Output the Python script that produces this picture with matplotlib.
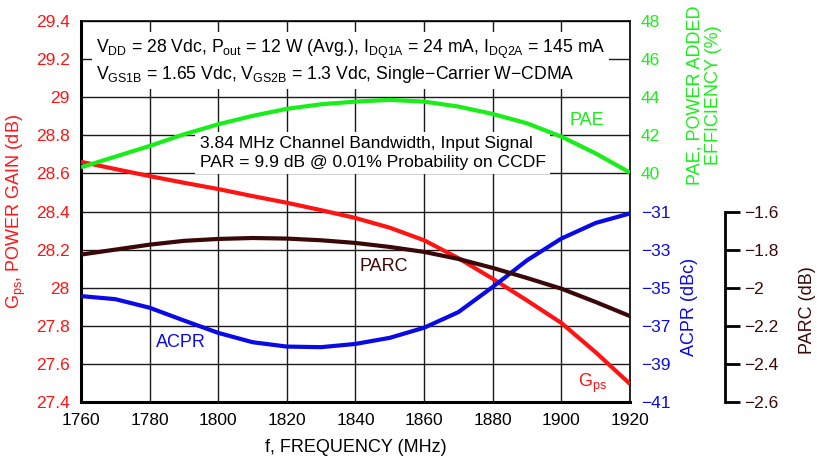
import matplotlib
matplotlib.use("Agg")
import matplotlib.pyplot as plt

plt.rcParams['font.family'] = ['Liberation Sans', 'DejaVu Sans']
plt.rcParams['mathtext.fontset'] = 'custom'
plt.rcParams['mathtext.rm'] = 'Liberation Sans'
plt.rcParams['mathtext.it'] = 'Liberation Sans'

# data, one point per 10 MHz
freq = [1760, 1770, 1780, 1790, 1800, 1810, 1820, 1830, 1840,
        1850, 1860, 1870, 1880, 1890, 1900, 1910, 1920]
gps = [28.661, 28.623, 28.586, 28.551, 28.518, 28.481, 28.446, 28.407, 28.366,
       28.315, 28.249, 28.155, 28.047, 27.933, 27.815, 27.661, 27.495]
pae = [40.32, 40.88, 41.44, 42.05, 42.58, 43.02, 43.39, 43.63, 43.77,
       43.86, 43.77, 43.51, 43.12, 42.63, 41.93, 41.05, 40.04]
acpr = [-35.44, -35.6, -36.05, -36.72, -37.37, -37.86, -38.09, -38.12, -37.95,
        -37.63, -37.1, -36.28, -34.96, -33.56, -32.42, -31.6, -31.1]
parc = [-1.826, -1.8, -1.774, -1.754, -1.744, -1.739, -1.742, -1.751, -1.765,
        -1.786, -1.812, -1.849, -1.896, -1.949, -2.005, -2.075, -2.149]

x_ticks = [1760, 1780, 1800, 1820, 1840, 1860, 1880, 1900, 1920]
gps_ticks = [27.4, 27.6, 27.8, 28, 28.2, 28.4, 28.6, 28.8, 29, 29.2, 29.4]
gps_labels = ['27.4', '27.6', '27.8', '28', '28.2', '28.4', '28.6', '28.8', '29', '29.2', '29.4']
pae_ticks = [40, 42, 44, 46, 48]
acpr_ticks = [-41, -39, -37, -35, -33, -31]
parc_ticks = [-2.6, -2.4, -2.2, -2, -1.8, -1.6]
parc_labels = ['\u22122.6', '\u22122.4', '\u22122.2', '\u22122', '\u22121.8', '\u22121.6']

RED = '#ff1414'
GREEN = '#1aee1a'
BLUE = '#0a0ae6'
BROWN = '#3a0808'

fig = plt.figure(figsize=(8.17, 4.63), dpi=100)
ax = fig.add_axes([0.0991, 0.1317, 0.672, 0.8229])

ax.set_xlim(1760, 1920)
ax.set_ylim(27.4, 29.4)
ax.set_xticks(x_ticks)
ax.set_yticks(gps_ticks)
ax.set_yticklabels(gps_labels)
ax.grid(True, color='#1a1a1a', linewidth=1.0, zorder=0)
ax.set_axisbelow(True)
ax.tick_params(axis='both', length=0, labelsize=12.5, pad=8)
ax.tick_params(axis='y', colors=RED)
ax.tick_params(axis='x', colors='black')
for s in ['left', 'bottom']:
    ax.spines[s].set_linewidth(2.2)
for s in ['top', 'right']:
    ax.spines[s].set_linewidth(1.2)
ax.set_xlabel('f, FREQUENCY (MHz)', fontsize=13, labelpad=8)
ax.set_ylabel('G$_{\\mathrm{ps}}$, POWER GAIN (dB)', fontsize=13, color=RED, labelpad=6)

ax_pae = ax.twinx()
ax_pae.set_ylim(28, 48)
ax_pae.set_yticks(pae_ticks)
ax_pae.tick_params(axis='y', length=0, labelsize=12.5, colors=GREEN, pad=8)
ax_pae.spines['right'].set_visible(False)

ax_acpr = ax.twinx()
ax_acpr.set_ylim(-41, -21)
ax_acpr.set_yticks(acpr_ticks)
ax_acpr.tick_params(axis='y', length=0, labelsize=12.5, colors=BLUE, pad=8)
ax_acpr.spines['right'].set_visible(False)

ax_parc = ax.twinx()
ax_parc.set_ylim(-2.6, -0.6)
ax_parc.spines['right'].set_position(('axes', 1.173))
ax_parc.spines['right'].set_bounds(-2.6, -1.6)
ax_parc.spines['right'].set_linewidth(2.0)
ax_parc.set_yticks(parc_ticks)
ax_parc.set_yticklabels(parc_labels)
ax_parc.tick_params(axis='y', length=11, width=2.0, direction='out', labelsize=12.5,
                    colors='black', labelcolor=BROWN, pad=3)
for a in [ax_pae, ax_acpr, ax_parc]:
    for s in ['top', 'left', 'bottom']:
        a.spines[s].set_visible(False)

ax.plot(freq, gps, color=RED, linewidth=3, zorder=5, solid_capstyle='butt')
ax_pae.plot(freq, pae, color=GREEN, linewidth=3, zorder=5, solid_capstyle='butt')
ax_acpr.plot(freq, acpr, color=BLUE, linewidth=3, zorder=5, solid_capstyle='butt')
ax_parc.plot(freq, parc, color=BROWN, linewidth=3, zorder=5, solid_capstyle='butt')

box = dict(facecolor='white', edgecolor='none', pad=3)
ax.text(0.027, 0.955,
        'V$_{\\mathrm{DD}}$ = 28 Vdc, P$_{\\mathrm{out}}$ = 12 W (Avg.), I$_{\\mathrm{DQ1A}}$ = 24 mA, '
        'I$_{\\mathrm{DQ2A}}$ = 145 mA\n'
        'V$_{\\mathrm{GS1B}}$ = 1.65 Vdc, V$_{\\mathrm{GS2B}}$ = 1.3 Vdc, Single\u2212Carrier W\u2212CDMA',
        transform=ax.transAxes, ha='left', va='top', fontsize=12.7, linespacing=1.15,
        bbox=box, zorder=3)
ax.text(0.216, 0.698,
        '3.84 MHz Channel Bandwidth, Input Signal\nPAR = 9.9 dB @ 0.01% Probability on CCDF',
        transform=ax.transAxes, ha='left', va='top', fontsize=12.6, linespacing=1.3,
        bbox=box, zorder=3)

ax.text(0.922, 0.74, 'PAE', transform=ax.transAxes, color=GREEN, fontsize=13,
        ha='center', va='center')
ax.text(0.552, 0.357, 'PARC', transform=ax.transAxes, color=BROWN, fontsize=13,
        ha='center', va='center')
ax.text(0.182, 0.155, 'ACPR', transform=ax.transAxes, color=BLUE, fontsize=13,
        ha='center', va='center')
ax.text(0.931, 0.05, 'G$_{\\mathrm{ps}}$', transform=ax.transAxes, color=RED, fontsize=13,
        ha='center', va='center')

fig.text(704 / 817, 1 - 95 / 463, 'PAE, POWER ADDED\nEFFICIENCY (%)', rotation=90,
         color=GREEN, fontsize=13, ha='center', va='center', linespacing=1.1)
fig.text(690 / 817, 1 - 307 / 463, 'ACPR (dBc)', rotation=90,
         color=BLUE, fontsize=13, ha='center', va='center')
fig.text(807 / 817, 1 - 310 / 463, 'PARC (dB)', rotation=90,
         color=BROWN, fontsize=13, ha='center', va='center')

fig.savefig('out.png', dpi=100)
